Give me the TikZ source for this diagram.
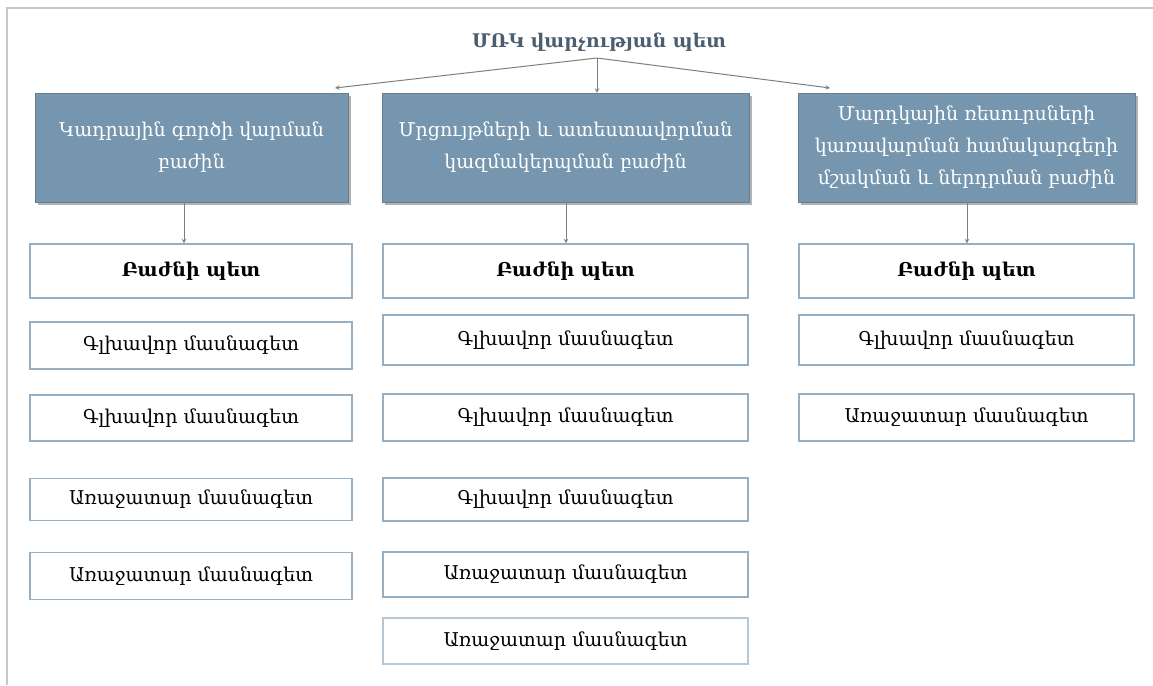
\documentclass[tikz,border=0pt]{standalone}
\usepackage{fontspec}
\setmainfont{DejaVu Serif}
\usetikzlibrary{shadows}

\definecolor{deptblue}{HTML}{7596AE}
\definecolor{postline}{HTML}{97AFC3}
\definecolor{headtext}{HTML}{4A5E70}
\definecolor{linkgray}{HTML}{7F7F7F}

\tikzstyle{dept} = [rectangle, minimum height=109pt, text centered, align=center, fill=deptblue, draw=deptblue!85!black, text=white, inner sep=0pt, font=\fontsize{19}{32}\selectfont, drop shadow={shadow xshift=3pt, shadow yshift=-3pt, opacity=0.6}]
\tikzstyle{post} = [rectangle, text centered, align=center, draw=postline, line width=1.4pt, fill=white, inner sep=0pt, font=\fontsize{19}{22}\selectfont]
\tikzstyle{chief} = [post, minimum height=54pt, font=\bfseries\fontsize{19}{22}\selectfont]
\tikzstyle{arrow} = [linkgray, line width=1pt, ->, >=stealth]

\begin{document}
\begin{tikzpicture}[x=1pt, y=-1pt]
\useasboundingbox (0,0) rectangle (1153,685);

% frame
\draw[black!22, line width=1.2pt] (7,685) -- (7,8) -- (1153,8);

\node (head) [font=\bfseries\fontsize{18.8}{24}\selectfont, text=headtext] at (599,42) {ՄՌԿ վարչության պետ};

% departments
\node (deptA) [dept, minimum width=313pt] at (191.5,147.5) {Կադրային գործի վարման\\բաժին};
\node (deptB) [dept, minimum width=367pt] at (565.5,147.5) {Մրցույթների և ատեստավորման\\կազմակերպման բաժին};
\node (deptC) [dept, minimum width=337pt] at (966.5,147.5) {Մարդկային ռեսուրսների\\կառավարման համակարգերի\\մշակման և ներդրման բաժին};

% column A
\node (chiefA) [chief, minimum width=322pt] at (191,271) {Բաժնի պետ};
\node (a1) [post, minimum width=322pt, minimum height=47pt] at (191,345.5) {Գլխավոր մասնագետ};
\node (a2) [post, minimum width=322pt, minimum height=46pt] at (191,418) {Գլխավոր մասնագետ};
\node (a3) [post, minimum width=322pt, minimum height=42pt] at (191,499.5) {Առաջատար մասնագետ};
\node (a4) [post, minimum width=322pt, minimum height=47pt] at (191,576) {Առաջատար մասնագետ};

% column B
\node (chiefB) [chief, minimum width=365pt] at (565.5,271) {Բաժնի պետ};
\node (b1) [post, minimum width=365pt, minimum height=50pt] at (565.5,340) {Գլխավոր մասնագետ};
\node (b2) [post, minimum width=365pt, minimum height=47pt] at (565.5,417.5) {Գլխավոր մասնագետ};
\node (b3) [post, minimum width=365pt, minimum height=43pt] at (565.5,499.5) {Գլխավոր մասնագետ};
\node (b4) [post, minimum width=365pt, minimum height=45pt] at (565.5,574.5) {Առաջատար մասնագետ};
\node (b5) [post, minimum width=365pt, minimum height=46pt, draw=postline!70] at (565.5,641) {Առաջատար մասնագետ};

% column C
\node (chiefC) [chief, minimum width=335pt] at (966.5,271) {Բաժնի պետ};
\node (c1) [post, minimum width=335pt, minimum height=50pt] at (966.5,340) {Գլխավոր մասնագետ};
\node (c2) [post, minimum width=335pt, minimum height=47pt] at (966.5,417.5) {Առաջատար մասնագետ};

% links
\coordinate (fork) at (597,58);
\coordinate (tipA) at (335,88);
\coordinate (tipC) at (830,88);
\draw[arrow] (fork) -- (tipA);
\draw[arrow] (fork) -- (deptB.north -| fork);
\draw[arrow] (fork) -- (tipC);

\draw[arrow] ([xshift=-7.5pt]deptA.south) -- ([xshift=-7pt]chiefA.north);
\draw[arrow] ([xshift=0.5pt]deptB.south) -- ([xshift=0.5pt]chiefB.north);
\draw[arrow] ([xshift=0.5pt]deptC.south) -- ([xshift=0.5pt]chiefC.north);

\end{tikzpicture}
\end{document}
